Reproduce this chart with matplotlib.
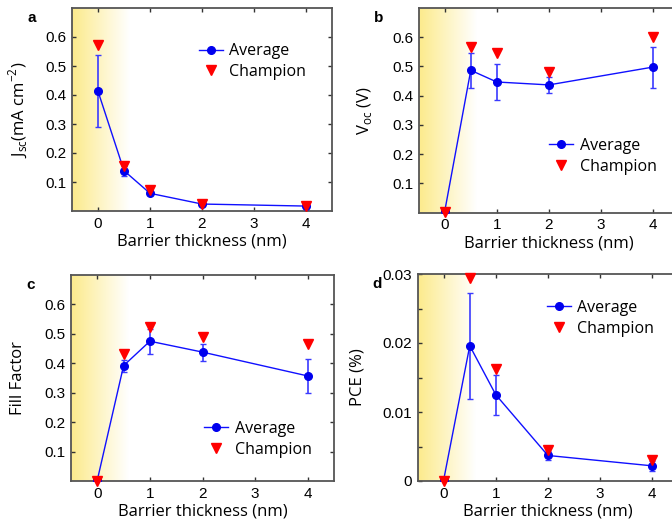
import numpy as np
import matplotlib
matplotlib.use("Agg")
import matplotlib.pyplot as plt
from matplotlib.colors import LinearSegmentedColormap

plt.rcParams['font.family'] = 'Liberation Sans'

# barrier thickness (nm)
thickness = [0, 0.5, 1, 2, 4]

jsc_avg = [0.413, 0.139, 0.061, 0.024, 0.017]
jsc_err = [0.125, 0.017, 0.004, 0.002, 0.002]
jsc_champ = [0.572, 0.154, 0.071, 0.025, 0.017]

voc_avg = [0.005, 0.487, 0.447, 0.437, 0.498]
voc_err = [0.003, 0.060, 0.060, 0.027, 0.070]
voc_champ = [0.003, 0.568, 0.547, 0.481, 0.600]

ff_avg = [0.003, 0.392, 0.475, 0.438, 0.357]
ff_err = [0.002, 0.020, 0.043, 0.029, 0.058]
ff_champ = [0.0, 0.432, 0.522, 0.491, 0.466]

pce_avg = [0.0002, 0.0196, 0.0125, 0.0037, 0.0022]
pce_err = [0.0001, 0.0077, 0.0029, 0.0006, 0.0007]
pce_champ = [0.0, 0.0294, 0.0162, 0.0045, 0.0031]

xticks = [0, 1, 2, 3, 4]

panels = [
    ('a', jsc_avg, jsc_err, jsc_champ, r'J$_{\mathregular{sc}}$(mA cm$^{\mathregular{-2}}$)'),
    ('b', voc_avg, voc_err, voc_champ, r'V$_{\mathregular{oc}}$ (V)'),
    ('c', ff_avg, ff_err, ff_champ, 'Fill Factor'),
    ('d', pce_avg, pce_err, pce_champ, 'PCE (%)'),
]

W, H = 672, 530
# axes boxes in pixels: left, right, top, bottom
boxes = [(72, 332, 8, 211), (418.7, 679, 8, 212.7),
         (71, 334, 275, 481), (417.7, 678, 274, 481)]
legend_pos = [(0.488, 0.736), (0.502, 0.275), (0.507, 0.203), (0.496, 0.786)]
ylabel_x = [18, 365, 18, 358]

grad = LinearSegmentedColormap.from_list('g', [(0.99, 0.92, 0.55), (1, 1, 1)])
label_font = 'Open Sans'

fig = plt.figure(figsize=(W / 100, H / 100), dpi=100)

for i, (letter, avg, err, champ, ylab) in enumerate(panels):
    l, r, t, b = boxes[i]
    ax = fig.add_axes([l / W, 1 - b / H, (r - l) / W, (b - t) / H])
    if letter == 'd':
        ymax = 0.03
        yt = [0, 0.005, 0.01, 0.015, 0.02, 0.025, 0.03]
        ytl = ['0', '', '0.01', '', '0.02', '', '0.03']
    else:
        ymax = 0.7
        yt = [0.1, 0.2, 0.3, 0.4, 0.5, 0.6]
        ytl = ['0.1', '0.2', '0.3', '0.4', '0.5', '0.6']
    ax.imshow(np.linspace(0, 1, 256).reshape(1, -1), cmap=grad, aspect='auto',
              extent=[-0.5, 0.6, 0, ymax], zorder=0)
    ax.errorbar(thickness, avg, yerr=err, fmt='none', ecolor='#3a3aff',
                elinewidth=1.2, capsize=2.5, capthick=1, zorder=2)
    ax.plot(thickness, avg, '-o', color='#1010ff', lw=1, markersize=5.5,
            markerfacecolor='#0000ee', markeredgecolor='#0000ee', label='Average', zorder=3)
    ax.plot(thickness, champ, 'v', color='#ff0000', markersize=7.5, ls='none',
            label='Champion', zorder=4, clip_on=False)
    ax.set_xlim(-0.5, 4.5)
    ax.set_ylim(0, ymax)
    ax.set_xticks(xticks)
    ax.set_xticklabels([str(x) for x in xticks])
    ax.set_yticks(yt)
    ax.set_yticklabels(ytl)
    ax.tick_params(direction='in', length=3, width=1, top=True, right=True,
                   labelsize=11, color='#333333', pad=4)
    for s in ax.spines.values():
        s.set_color('#555555')
        s.set_linewidth(1.3)
    ax.set_xlabel('Barrier thickness (nm)', fontsize=12, family=label_font, labelpad=2)
    ax.set_ylabel(ylab, fontsize=12, family=label_font, va='center')
    ax.yaxis.set_label_coords((ylabel_x[i] - l) / (r - l), 0.5)
    ax.legend(loc='center left', bbox_to_anchor=legend_pos[i], frameon=False,
              borderpad=0, borderaxespad=0, handlelength=1.5, handletextpad=0.4,
              labelspacing=0.3, prop={'family': label_font, 'size': 11.5})
    fig.text((l - 45) / W, 1 - (t + 10) / H, letter, fontsize=11, fontweight='bold',
             ha='left', va='center')

fig.savefig('out.png', dpi=100)
